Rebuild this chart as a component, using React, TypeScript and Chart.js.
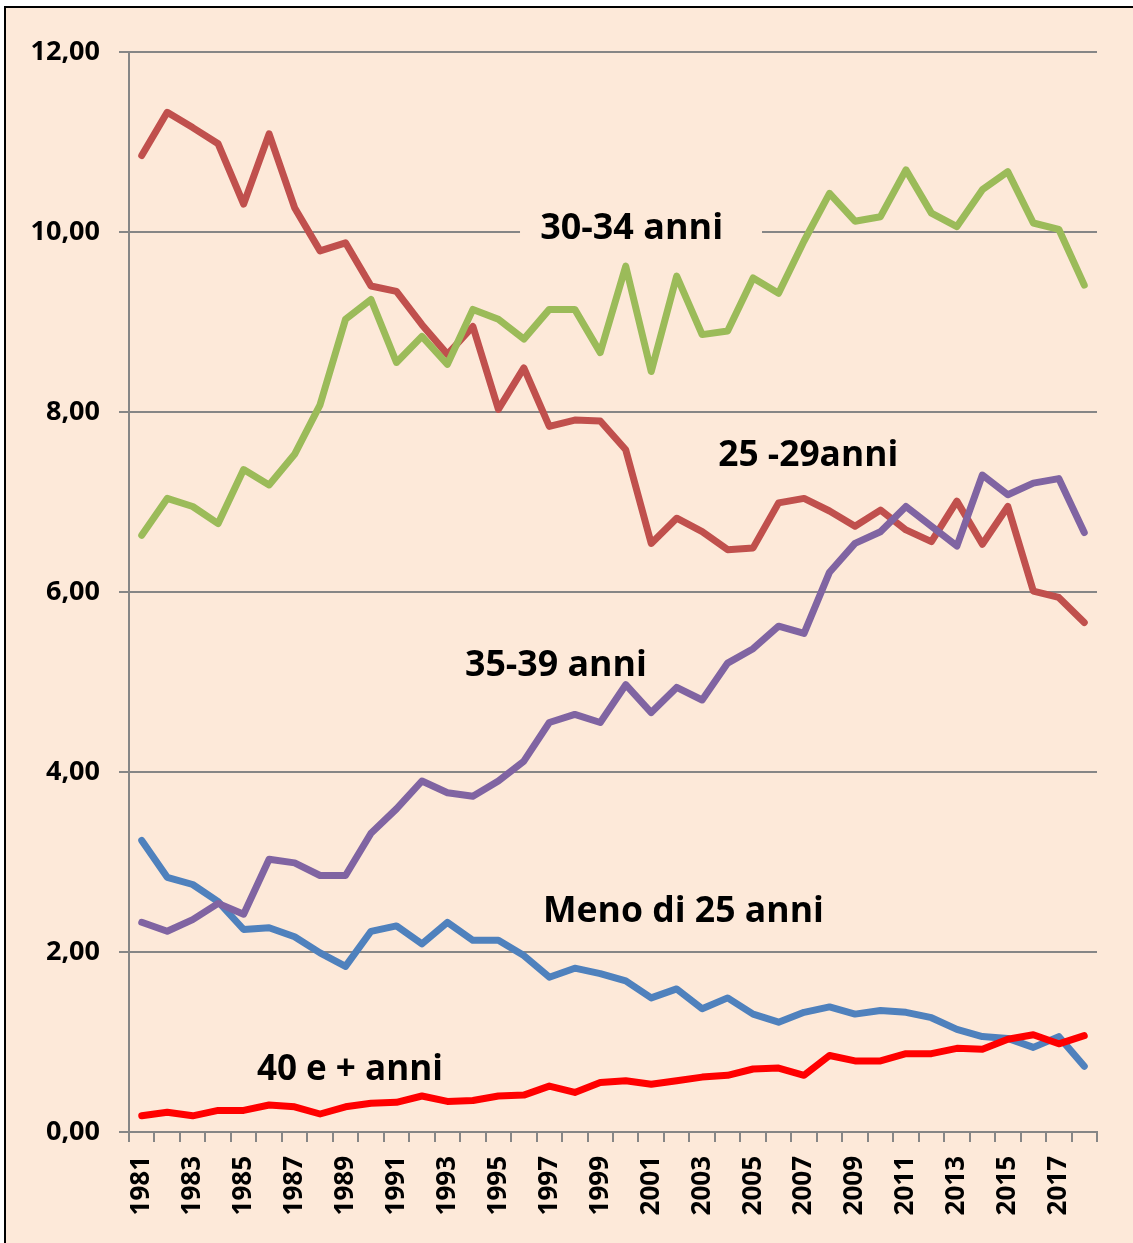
import React, { useEffect, useRef } from "react";
import { Chart, registerables } from "chart.js";

Chart.register(...registerables);

const years = [
  "1981", "1982", "1983", "1984", "1985", "1986", "1987", "1988", "1989", "1990",
  "1991", "1992", "1993", "1994", "1995", "1996", "1997", "1998", "1999", "2000",
  "2001", "2002", "2003", "2004", "2005", "2006", "2007", "2008", "2009", "2010",
  "2011", "2012", "2013", "2014", "2015", "2016", "2017", "2018",
];

const meno25 = [3.24, 2.83, 2.75, 2.56, 2.25, 2.27, 2.17, 1.99, 1.84, 2.23, 2.29, 2.09, 2.33, 2.13, 2.13, 1.96, 1.72, 1.82, 1.76, 1.68, 1.49, 1.59, 1.37, 1.49, 1.31, 1.22, 1.33, 1.39, 1.31, 1.35, 1.33, 1.27, 1.14, 1.06, 1.04, 0.94, 1.06, 0.73];
const anni25_29 = [10.85, 11.33, 11.16, 10.98, 10.31, 11.09, 10.27, 9.79, 9.88, 9.4, 9.34, 8.97, 8.64, 8.95, 8.03, 8.49, 7.84, 7.91, 7.9, 7.58, 6.54, 6.82, 6.67, 6.47, 6.49, 6.99, 7.04, 6.9, 6.73, 6.91, 6.69, 6.56, 7.01, 6.53, 6.95, 6.01, 5.94, 5.66];
const anni30_34 = [6.63, 7.04, 6.95, 6.76, 7.36, 7.19, 7.53, 8.08, 9.03, 9.25, 8.55, 8.84, 8.53, 9.14, 9.03, 8.81, 9.14, 9.14, 8.66, 9.62, 8.45, 9.51, 8.86, 8.9, 9.49, 9.32, 9.9, 10.43, 10.12, 10.17, 10.69, 10.21, 10.06, 10.47, 10.67, 10.1, 10.03, 9.41];
const anni35_39 = [2.33, 2.23, 2.36, 2.54, 2.42, 3.03, 2.99, 2.85, 2.85, 3.32, 3.59, 3.9, 3.77, 3.73, 3.9, 4.12, 4.55, 4.64, 4.55, 4.97, 4.66, 4.94, 4.8, 5.21, 5.37, 5.62, 5.54, 6.22, 6.54, 6.67, 6.95, 6.73, 6.51, 7.3, 7.08, 7.21, 7.26, 6.66];
const anni40piu = [0.18, 0.22, 0.18, 0.24, 0.24, 0.3, 0.28, 0.2, 0.28, 0.32, 0.33, 0.4, 0.34, 0.35, 0.4, 0.41, 0.51, 0.44, 0.55, 0.57, 0.53, 0.57, 0.61, 0.63, 0.7, 0.71, 0.63, 0.85, 0.79, 0.79, 0.87, 0.87, 0.93, 0.92, 1.03, 1.08, 0.98, 1.07];

const seriesNames = ["Meno di 25 anni", "25 -29anni", "30-34 anni", "35-39 anni", "40 e + anni"];

// labels placed on the plot: text, left x (category index), baseline y (value), width in px
const labelText = ["30-34 anni", "25 -29anni", "35-39 anni", "Meno di 25 anni", "40 e + anni"];
const labelX = [15.64, 22.63, 12.69, 15.75, 4.52];
const labelY = [9.92, 7.4, 5.07, 2.33, 0.58];
const labelW = [183, 180, 182, 281, 186];

const BG = "#FDE9D9";
const GRID = "#868686";

const bgPlugin = {
  id: "bgPlugin",
  beforeDraw(chart: any) {
    const ctx = chart.ctx;
    ctx.save();
    ctx.fillStyle = "#ffffff";
    ctx.fillRect(0, 0, chart.width, chart.height);
    ctx.fillStyle = BG;
    ctx.fillRect(5, 7, chart.width, chart.height);
    ctx.strokeStyle = "#000000";
    ctx.lineWidth = 2;
    ctx.strokeRect(5, 7, chart.width + 20, chart.height + 20);
    ctx.restore();
  },
};

const labelPlugin = {
  id: "labelPlugin",
  afterDatasetsDraw(chart: any) {
    const ctx = chart.ctx;
    const xs = chart.scales.x;
    const ys = chart.scales.y;
    ctx.save();
    // gap in the 10,00 gridline behind the "30-34 anni" label
    const bx0 = xs.getPixelForValue(14.85);
    const bx1 = xs.getPixelForValue(24.35);
    ctx.fillStyle = BG;
    ctx.fillRect(bx0, ys.getPixelForValue(10.25), bx1 - bx0, 40);
    ctx.fillStyle = "#000000";
    ctx.font = "bold 36px 'Open Sans'";
    ctx.textAlign = "left";
    ctx.textBaseline = "alphabetic";
    for (let i = 0; i < labelText.length; i++) {
      const x = xs.getPixelForValue(labelX[i]);
      const y = ys.getPixelForValue(labelY[i]);
      ctx.fillText(labelText[i], x, y, labelW[i]);
    }
    ctx.restore();
  },
};

export default function App() {
  const ref = useRef<HTMLCanvasElement | null>(null);
  useEffect(() => {
    if (!ref.current) return;
    const common = {
      pointRadius: 0,
      borderWidth: 7,
      tension: 0,
      fill: false,
      borderCapStyle: "round",
      borderJoinStyle: "round",
    };
    const chart = new Chart(ref.current, {
      type: "line",
      data: {
        labels: years,
        datasets: [
          { ...common, label: seriesNames[0], data: meno25, borderColor: "#4F81BD", backgroundColor: "#4F81BD", order: 4 },
          { ...common, label: seriesNames[1], data: anni25_29, borderColor: "#C0504D", backgroundColor: "#C0504D", order: 3 },
          { ...common, label: seriesNames[2], data: anni30_34, borderColor: "#9BBB59", backgroundColor: "#9BBB59", order: 2 },
          { ...common, label: seriesNames[3], data: anni35_39, borderColor: "#8064A2", backgroundColor: "#8064A2", order: 1 },
          { ...common, label: seriesNames[4], data: anni40piu, borderColor: "#FF0000", backgroundColor: "#FF0000", order: 0 },
        ] as any,
      },
      options: {
        responsive: false,
        animation: false,
        layout: { padding: { top: 52, right: 36, left: 0, bottom: 0 } },
        plugins: { legend: { display: false }, tooltip: { enabled: false } },
        scales: {
          x: {
            type: "category",
            offset: true,
            grid: {
              offset: true,
              drawOnChartArea: false,
              drawTicks: true,
              tickLength: 10,
              color: GRID,
              lineWidth: 2,
            },
            border: { color: GRID, width: 2 },
            ticks: {
              autoSkip: false,
              maxRotation: 90,
              minRotation: 90,
              padding: 14,
              color: "#000000",
              font: { family: "'Open Sans'", weight: "bold", size: 26 },
              callback: (_v: any, i: number) => (i % 2 === 0 ? years[i] : ""),
            },
            afterFit: (s: any) => {
              s.height = 111;
            },
          },
          y: {
            min: 0,
            max: 12,
            grid: { color: GRID, lineWidth: 2, drawTicks: true, tickLength: 10 },
            border: { color: GRID, width: 2 },
            ticks: {
              stepSize: 2,
              padding: 19,
              color: "#000000",
              font: { family: "'Open Sans'", weight: "bold", size: 27 },
              callback: (v: any) => Number(v).toFixed(2).replace(".", ","),
            },
            afterFit: (s: any) => {
              s.width = 129;
            },
          },
        },
      } as any,
      plugins: [bgPlugin, labelPlugin],
    });
    return () => chart.destroy();
  }, []);
  return (
    <canvas
      ref={ref}
      width={1133}
      height={1243}
      style={{ position: "fixed", left: 0, top: 0, display: "block", width: 1133, height: 1243 }}
    />
  );
}
